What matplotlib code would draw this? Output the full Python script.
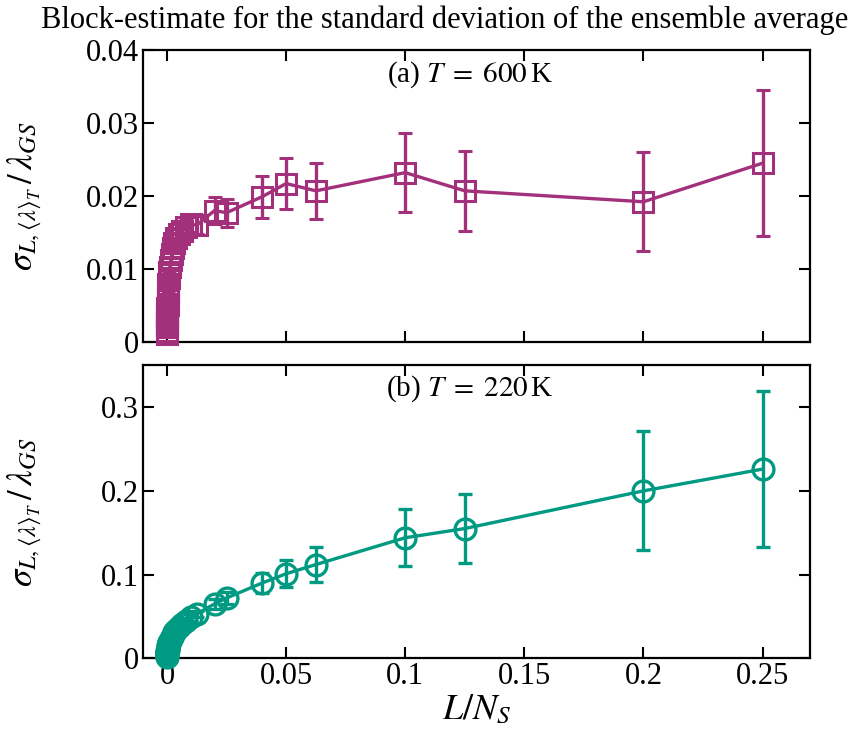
import matplotlib
matplotlib.use('Agg')
import matplotlib.pyplot as plt
from matplotlib.ticker import FuncFormatter, MultipleLocator

plt.rcParams['font.family'] = ['Liberation Serif', 'DejaVu Serif']
plt.rcParams['mathtext.fontset'] = 'stix'

# ── Данные ────────────────────────────────────────────────────────
# L / N_S
x_vals = [0.25, 0.2, 0.125, 0.1, 0.0625, 0.05, 0.04, 0.025, 0.02,
          0.0125, 0.01, 0.008, 0.00625, 0.005, 0.004, 0.003125, 0.0025,
          0.002, 0.0016, 0.00125, 0.001, 0.0008, 0.000625, 0.0005,
          0.0004, 0.0003125, 0.00025, 0.0002, 0.00016, 0.000125, 0.0001,
          0.00008, 0.0000625, 0.00005, 0.00004, 0.00002, 0.00001]

# (a) T = 600 K
sig_600 = [0.0245, 0.0192, 0.0207, 0.0232, 0.0207, 0.0217, 0.0199, 0.0177,
           0.0180, 0.0160, 0.0161, 0.0158, 0.0152, 0.0148, 0.0142, 0.0135,
           0.0128, 0.0120, 0.0112, 0.0103, 0.0095, 0.0087, 0.0079, 0.0071,
           0.0064, 0.0057, 0.0051, 0.0046, 0.0041, 0.0036, 0.0032, 0.0029,
           0.0026, 0.0023, 0.0020, 0.0014, 0.0010]
err_600 = [0.0100, 0.0068, 0.0055, 0.0054, 0.0038, 0.0035, 0.0029, 0.0019,
           0.0018, 0.0012, 0.0011, 0.0010, 0.0008, 0.0007, 0.0006, 0.0005,
           0.0004, 0.0004, 0.0003, 0.0003, 0.0002, 0.0002, 0.0002, 0.0001,
           0.0001, 0.0001, 0.0001, 0.0001, 0.0001, 0.0001, 0.0001, 0.0001,
           0.0001, 0.0001, 0.0001, 0.0001, 0.0001]

# (b) T = 220 K
sig_220 = [0.226, 0.200, 0.155, 0.144, 0.112, 0.101, 0.090, 0.072, 0.065,
           0.053, 0.049, 0.045, 0.041, 0.037, 0.034, 0.031, 0.028, 0.025,
           0.023, 0.021, 0.019, 0.017, 0.0155, 0.014, 0.0125, 0.011, 0.010,
           0.009, 0.008, 0.0072, 0.0065, 0.0058, 0.0052, 0.0046, 0.0041,
           0.0029, 0.0021]
err_220 = [0.093, 0.071, 0.041, 0.034, 0.021, 0.016, 0.012, 0.007, 0.006,
           0.004, 0.004, 0.003, 0.003, 0.002, 0.002, 0.002, 0.001, 0.001,
           0.001, 0.001, 0.001, 0.001, 0.001, 0.001, 0.001, 0.001, 0.001,
           0.001, 0.001, 0.001, 0.001, 0.001, 0.001, 0.001, 0.001, 0.001,
           0.001]

COL_A = '#a3307b'
COL_B = '#009a82'

fig = plt.figure(figsize=(8.52, 7.38), dpi=100)
ax1 = fig.add_axes([0.168, 0.537, 0.783, 0.395])
ax2 = fig.add_axes([0.168, 0.108, 0.783, 0.397])

fmt = FuncFormatter(lambda v, p: '%g' % round(v, 6))

ax1.errorbar(x_vals, sig_600, yerr=err_600, color=COL_A, lw=2.4,
             marker='s', ms=14, mfc='none', mec=COL_A, mew=2.2,
             capsize=5, capthick=2.4, elinewidth=2.4, clip_on=False, zorder=3)
ax2.errorbar(x_vals, sig_220, yerr=err_220, color=COL_B, lw=2.4,
             marker='o', ms=15, mfc='none', mec=COL_B, mew=2.4,
             capsize=5, capthick=2.4, elinewidth=2.4, clip_on=False, zorder=3)

for ax in (ax1, ax2):
    ax.set_xlim(-0.01, 0.27)
    ax.xaxis.set_major_locator(MultipleLocator(0.05))
    ax.xaxis.set_major_formatter(fmt)
    ax.yaxis.set_major_formatter(fmt)
    ax.tick_params(direction='in', length=8, width=1.5, top=True, right=True,
                   labelsize=22, pad=3)
    for s in ax.spines.values():
        s.set_linewidth(1.6)
    ax.set_ylabel(r'$\sigma_{L,\langle\lambda\rangle_T}\,/\,\lambda_{GS}$',
                  fontsize=25)
    ax.yaxis.set_label_coords(-0.148, 0.5)

ax1.set_ylim(0, 0.04)
ax1.yaxis.set_major_locator(MultipleLocator(0.01))
ax1.tick_params(labelbottom=False)
ax2.set_ylim(0, 0.35)
ax2.yaxis.set_major_locator(MultipleLocator(0.1))

ax1.text(0.49, 0.915, r'(a) $T\;=\;600\,$K', transform=ax1.transAxes,
         ha='center', va='center', fontsize=21)
ax2.text(0.49, 0.92, r'(b) $T\;=\;220\,$K', transform=ax2.transAxes,
         ha='center', va='center', fontsize=21)

ax2.set_xlabel(r'$L/N_S$', fontsize=26, labelpad=2)

fig.text(0.522, 0.972, 'Block-estimate for the standard deviation of the ensemble average',
         ha='center', va='center', fontsize=22)

fig.savefig('out.png', dpi=100)
